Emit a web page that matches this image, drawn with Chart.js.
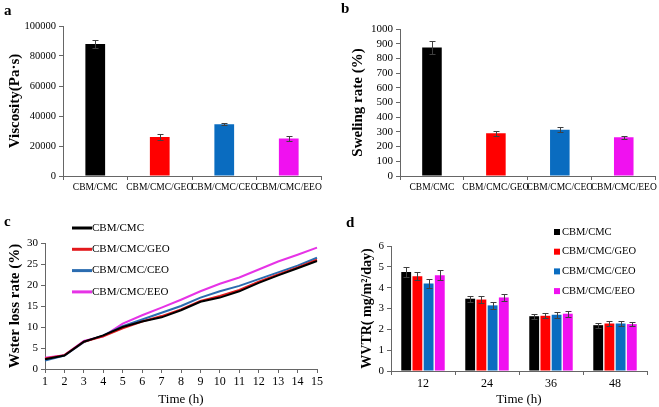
<!DOCTYPE html>
<html>
<head>
<meta charset="utf-8">
<script src="https://cdn.jsdelivr.net/npm/chart.js@4"></script>
<style>
  body { margin: 0; background: #fff; }
  #wrap { position: relative; width: 659px; height: 407px; overflow: hidden; }
  .pane { position: absolute; }
  .tag { position: absolute; font: bold 15px 'Liberation Serif', serif; color: #000; }
</style>
</head>
<body>
<div id="wrap">
  <div class="pane" style="left:0;top:0;width:330px;height:200px"><canvas id="ca"></canvas></div>
  <div class="pane" style="left:330px;top:0;width:329px;height:200px"><canvas id="cb"></canvas></div>
  <div class="pane" style="left:0;top:195px;width:330px;height:212px"><canvas id="cc"></canvas></div>
  <div class="pane" style="left:330px;top:195px;width:329px;height:212px"><canvas id="cd"></canvas></div>
  <div class="tag" style="left:4px;top:2px">a</div>
  <div class="tag" style="left:341px;top:0px">b</div>
  <div class="tag" style="left:4px;top:213px">c</div>
  <div class="tag" style="left:346px;top:214px">d</div>
</div>
<script>
// samples
const groups = ['CBM/CMC', 'CBM/CMC/GEO', 'CBM/CMC/CEO', 'CBM/CMC/EEO'];
const colors = ['#000000', '#ff0000', '#0a6cc0', '#f011f0'];
const lineColors = ['#000000', '#e3191c', '#2b6cb0', '#e633e6'];

// a: viscosity
const viscosity = [88000, 26000, 34500, 25000];
const viscosityErr = [2500, 1800, 700, 1800];

// b: swelling
const swelling = [875, 290, 315, 263];
const swellingErr = [45, 15, 18, 12];

// c: water loss rate over time
const hours = ['1','2','3','4','5','6','7','8','9','10','11','12','13','14','15'];
const lossCMC = [2.3, 3.2, 6.5, 8.0, 10.0, 11.3, 12.3, 14.0, 16.0, 17.0, 18.5, 20.5, 22.3, 24.0, 25.7];
const lossGEO = [2.5, 3.3, 6.5, 7.8, 9.7, 11.3, 12.6, 14.2, 16.2, 17.4, 18.8, 20.8, 22.5, 24.2, 26.0];
const lossCEO = [2.0, 3.2, 6.4, 8.0, 10.2, 11.8, 13.4, 15.0, 17.0, 18.5, 19.8, 21.4, 23.0, 24.6, 26.5];
const lossEEO = [2.7, 3.3, 6.7, 7.8, 10.8, 12.8, 14.6, 16.5, 18.5, 20.3, 21.8, 23.7, 25.6, 27.2, 28.9];

// d: WVTR
const wvtrTimes = ['12', '24', '36', '48'];
const wvtrCMC = [4.75, 3.47, 2.63, 2.2];
const wvtrGEO = [4.55, 3.43, 2.65, 2.28];
const wvtrCEO = [4.2, 3.15, 2.7, 2.28];
const wvtrEEO = [4.6, 3.53, 2.75, 2.25];
const wvtrCMCErr = [0.25, 0.15, 0.12, 0.12];
const wvtrGEOErr = [0.2, 0.18, 0.12, 0.1];
const wvtrCEOErr = [0.2, 0.15, 0.15, 0.1];
const wvtrEEOErr = [0.25, 0.18, 0.15, 0.1];

const serif = "'Liberation Serif', 'Times New Roman', serif";
const axisCol = '#666';
Chart.defaults.font.family = serif;
Chart.defaults.color = '#000';
Chart.defaults.animation = false;

// draws the ± bars on top of each bar
const errorBars = {
  id: 'errorBars',
  afterDatasetsDraw(chart) {
    const ctx = chart.ctx, y = chart.scales.y;
    chart.data.datasets.forEach((ds, i) => {
      if (!ds.errors) return;
      chart.getDatasetMeta(i).data.forEach((bar, j) => {
        const v = ds.data[j], e = ds.errors[j];
        const t = Math.round(y.getPixelForValue(v + e)) + 0.5;
        const b = Math.round(y.getPixelForValue(v - e)) + 0.5;
        const x = Math.round(bar.x) + 0.5;
        ctx.save();
        ctx.strokeStyle = '#404040';
        ctx.lineWidth = 1;
        ctx.beginPath();
        ctx.moveTo(x, t); ctx.lineTo(x, b);
        ctx.moveTo(x - 3, t); ctx.lineTo(x + 3, t);
        ctx.moveTo(x - 3, b); ctx.lineTo(x + 3, b);
        ctx.stroke();
        ctx.restore();
      });
    });
  }
};

// small legend placed by hand (the figure puts it over the plot)
const handLegend = {
  id: 'handLegend',
  afterDraw(chart, args, o) {
    if (!o.show) return;
    const ctx = chart.ctx;
    ctx.save();
    ctx.font = o.size + 'px ' + serif;
    ctx.textBaseline = 'middle';
    chart.data.datasets.forEach((ds, i) => {
      const y = o.y + i * o.dy;
      const c = ds.borderColor || ds.backgroundColor;
      if (o.marker === 'line') {
        ctx.strokeStyle = c; ctx.lineWidth = 3;
        ctx.beginPath(); ctx.moveTo(o.x, y); ctx.lineTo(o.x + 20, y); ctx.stroke();
        ctx.fillStyle = '#000';
        ctx.fillText(ds.label, o.x + 20, y);
      } else {
        ctx.fillStyle = c;
        ctx.fillRect(o.x, y - 3, 6, 6);
        ctx.fillStyle = '#000';
        ctx.fillText(ds.label, o.x + 8, y);
      }
    });
    ctx.restore();
  }
};

function axes(o) {
  return {
    x: {
      offset: o.offset,
      grid: { display: true, drawOnChartArea: false, offset: o.offset, color: axisCol, tickLength: 4 },
      border: { color: axisCol, width: 1 },
      ticks: { font: { size: o.xSize }, padding: 2, maxRotation: 0, autoSkip: false },
      title: o.xTitle ? { display: true, text: o.xTitle, font: { size: 13 }, padding: { top: 0, bottom: 0 } } : { display: false },
      afterFit: s => { s.height = o.xH; }
    },
    y: {
      min: o.min, max: o.max,
      ticks: { stepSize: o.step, autoSkip: false, font: { size: o.ySize }, padding: 3,
        callback: v => String(v) },
      grid: { display: true, drawOnChartArea: false, color: axisCol, tickLength: 4 },
      border: { color: axisCol, width: 1 },
      title: { display: true, text: o.yTitle, font: { size: o.tSize, weight: 'bold' }, padding: { top: o.tPad, bottom: 0 } },
      afterFit: s => { s.width = o.yW; }
    }
  };
}

function barPanel(id, values, errs, yTitle, opt) {
  new Chart(document.getElementById(id), {
    type: 'bar',
    data: {
      labels: groups,
      datasets: [{ label: yTitle, data: values, errors: errs, backgroundColor: colors,
        barPercentage: 0.9, categoryPercentage: 0.34 }]
    },
    options: {
      responsive: true, maintainAspectRatio: false,
      layout: { padding: opt.pad },
      plugins: { legend: { display: false }, tooltip: { enabled: false } },
      scales: axes(Object.assign({ offset: true, xSize: 9.5, yTitle: yTitle }, opt))
    },
    plugins: [errorBars]
  });
}

barPanel('ca', viscosity, viscosityErr, 'Viscosity(Pa·s)',
  { pad: { top: 26, right: 9, left: 0, bottom: 0 }, min: 0, max: 100000, step: 20000,
    ySize: 10.5, xH: 24, yW: 63, tSize: 15, tPad: 6 });

barPanel('cb', swelling, swellingErr, 'Sweling rate (%)',
  { pad: { top: 29, right: 2, left: 0, bottom: 0 }, min: 0, max: 1000, step: 100,
    ySize: 11, xH: 24, yW: 70, tSize: 15, tPad: 19 });

new Chart(document.getElementById('cc'), {
  type: 'line',
  data: {
    labels: hours,
    datasets: [
      { label: groups[0], data: lossCMC, borderColor: lineColors[0] },
      { label: groups[1], data: lossGEO, borderColor: lineColors[1] },
      { label: groups[2], data: lossCEO, borderColor: lineColors[2] },
      { label: groups[3], data: lossEEO, borderColor: lineColors[3] }
    ].map(d => Object.assign(d, { borderWidth: 2, pointRadius: 0, tension: 0, fill: false }))
  },
  options: {
    responsive: true, maintainAspectRatio: false,
    layout: { padding: { top: 48, right: 13, left: 0, bottom: 0 } },
    plugins: {
      legend: { display: false }, tooltip: { enabled: false },
      handLegend: { show: true, marker: 'line', x: 72, y: 33, dy: 21.3, size: 11 }
    },
    scales: axes({ offset: false, xSize: 12, xTitle: 'Time (h)', xH: 38, min: 0, max: 30, step: 5,
      ySize: 11, yW: 45, yTitle: 'Wster loss rate (%)', tSize: 15, tPad: 6 })
  },
  plugins: [handLegend]
});

new Chart(document.getElementById('cd'), {
  type: 'bar',
  data: {
    labels: wvtrTimes,
    datasets: [
      { label: groups[0], data: wvtrCMC, errors: wvtrCMCErr, backgroundColor: colors[0] },
      { label: groups[1], data: wvtrGEO, errors: wvtrGEOErr, backgroundColor: colors[1] },
      { label: groups[2], data: wvtrCEO, errors: wvtrCEOErr, backgroundColor: colors[2] },
      { label: groups[3], data: wvtrEEO, errors: wvtrEEOErr, backgroundColor: colors[3] }
    ].map(d => Object.assign(d, { barPercentage: 0.88, categoryPercentage: 0.7 }))
  },
  options: {
    responsive: true, maintainAspectRatio: false,
    layout: { padding: { top: 51, right: 12, left: 0, bottom: 0 } },
    plugins: {
      legend: { display: false }, tooltip: { enabled: false },
      handLegend: { show: true, marker: 'box', x: 224, y: 37, dy: 19.7, size: 10.5 }
    },
    scales: axes({ offset: true, xSize: 12, xTitle: 'Time (h)', xH: 36, min: 0, max: 6, step: 1,
      ySize: 11, yW: 61, yTitle: 'WVTR( mg/m²/day)', tSize: 14, tPad: 29 })
  },
  plugins: [errorBars, handLegend]
});
</script>
</body>
</html>
